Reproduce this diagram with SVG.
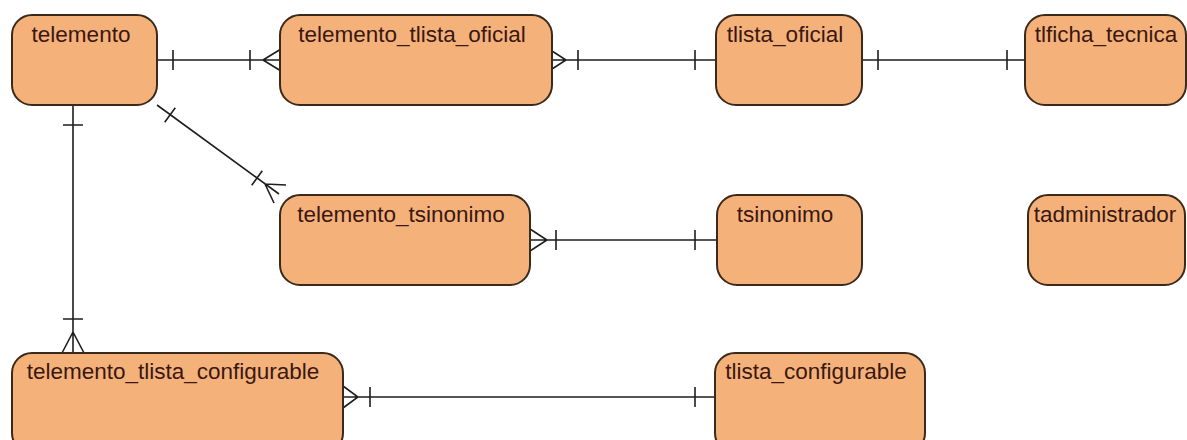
<svg xmlns="http://www.w3.org/2000/svg" width="1187" height="440" viewBox="0 0 1187 440">
  <style>
    .ent { fill: #f4b27a; stroke: #3b2a1c; stroke-width: 2; }
    .lbl { font-family: "Liberation Sans", Arial, sans-serif; font-size: 22.5px; fill: #3a1712; text-anchor: middle; }
    .rel { stroke: #1e1e1e; stroke-width: 1.6; fill: none; }
  </style>
  <rect width="1187" height="440" fill="#ffffff"/>

  <!-- relationships -->
  <g id="connectors" class="rel">
    <!-- telemento 1 : N telemento_tlista_oficial -->
    <path d="M157 60 H280 M173 50 V70 M250 50 V70 M263 60 L281 49 M263 60 L281 71"/>
    <!-- telemento_tlista_oficial N : 1 tlista_oficial -->
    <path d="M552 60 H716 M552 51 L566 60 L552 69 M578 50 V70 M695 50 V70"/>
    <!-- tlista_oficial 1 : 1 tlficha_tecnica -->
    <path d="M862 60 H1025 M878 50 V70 M1007 50 V70"/>
    <!-- telemento 1 : N telemento_tsinonimo -->
    <path d="M157 105 L279 194 M164.7 122.2 L175.3 107.8 M251.7 185.2 L262.3 170.8 M265 184 L286 185 M265 184 L274 203"/>
    <!-- telemento_tsinonimo N : 1 tsinonimo -->
    <path d="M530 240 H717 M530 229 L547 240 L530 251 M556 230 V250 M695 230 V250"/>
    <!-- telemento 1 : N telemento_tlista_configurable -->
    <path d="M73 105 V353 M63 125 H83 M63 319 H83 M73 332 L62 353 M73 332 L84 353"/>
    <!-- telemento_tlista_configurable N : 1 tlista_configurable -->
    <path d="M343 397 H715 M343 386 L358 397 L343 408 M370 387 V407 M695 387 V407"/>
  </g>

  <g id="telemento">
    <rect class="ent" x="12" y="15" width="145" height="90" rx="20"/>
    <text class="lbl" x="81" y="42">telemento</text>
  </g>
  <g id="telemento_tlista_oficial">
    <rect class="ent" x="280" y="15" width="272" height="90" rx="20"/>
    <text class="lbl" x="412" y="42">telemento_tlista_oficial</text>
  </g>
  <g id="tlista_oficial">
    <rect class="ent" x="716" y="15" width="146" height="90" rx="20"/>
    <text class="lbl" x="785" y="42">tlista_oficial</text>
  </g>
  <g id="tlficha_tecnica">
    <rect class="ent" x="1025" y="15" width="161" height="90" rx="20"/>
    <text class="lbl" x="1106" y="42">tlficha_tecnica</text>
  </g>
  <g id="telemento_tsinonimo">
    <rect class="ent" x="280" y="195" width="250" height="90" rx="20"/>
    <text class="lbl" x="401" y="222">telemento_tsinonimo</text>
  </g>
  <g id="tsinonimo">
    <rect class="ent" x="717" y="195" width="145" height="90" rx="20"/>
    <text class="lbl" x="785" y="222">tsinonimo</text>
  </g>
  <g id="tadministrador">
    <rect class="ent" x="1028" y="195" width="157" height="90" rx="20"/>
    <text class="lbl" x="1105" y="222">tadministrador</text>
  </g>
  <g id="telemento_tlista_configurable">
    <rect class="ent" x="12" y="353" width="331" height="100" rx="20"/>
    <text class="lbl" x="173" y="379">telemento_tlista_configurable</text>
  </g>
  <g id="tlista_configurable">
    <rect class="ent" x="715" y="353" width="210" height="100" rx="20"/>
    <text class="lbl" x="816" y="379">tlista_configurable</text>
  </g>
</svg>
